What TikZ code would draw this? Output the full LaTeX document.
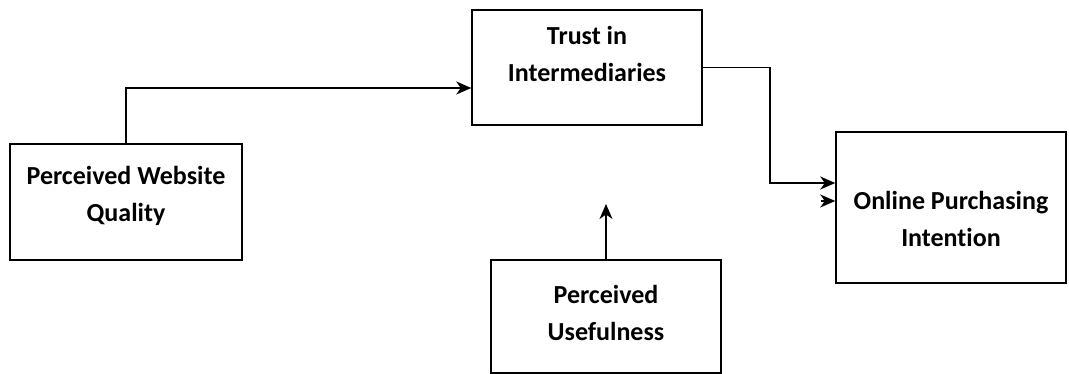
\documentclass[tikz,border=0pt]{standalone}
\usepackage{fontspec}
\setmainfont{Carlito}[Ligatures=NoCommon]
\usetikzlibrary{positioning,arrows.meta}

\begin{document}
\begin{tikzpicture}[x=1pt,y=-1pt,line width=1.5pt,>={Stealth[length=15pt,width=13pt,inset=4.5pt]}]
	\tikzstyle{construct}=[rectangle,draw=black,line width=1.5pt,minimum width=230pt,inner sep=0pt,align=center,text depth=0pt,font=\fontsize{26}{37}\selectfont\bfseries]
	\tikzstyle{link}=[->,line width=1.5pt]
	\useasboundingbox (0,0) rectangle (1069,374);

	%constructs
	\node[construct,minimum height=115pt,text height=29pt] (trust) at (587,67.5) {Trust in\\Intermediaries};
	\node[construct,minimum width=232pt,minimum height=116pt,text height=40pt] (quality) at (126,202) {Perceived Website\\Quality};
	\node[construct,minimum height=151pt,text height=78pt] (intention) at (951,207.5) {Online Purchasing\\Intention};
	\node[construct,minimum height=113pt,text height=49pt] (usefulness) at (606,316.5) {Perceived\\Usefulness};

	%paths
	\coordinate (qualityBend) at (126,88);
	\draw[link] (quality.north) -- (qualityBend) -- (qualityBend -| trust.west);
	\coordinate (trustBend) at (770,183);
	\draw[link] (trust.east) -| (trustBend) -- (trustBend -| intention.west);
	\coordinate (usefulnessTip) at (606,204);
	\draw[link] (usefulness.north) -- (usefulnessTip);
	\coordinate (strayTail) at (821,201);
	\draw[link] (strayTail) -- (strayTail -| intention.west);
\end{tikzpicture}
\end{document}
